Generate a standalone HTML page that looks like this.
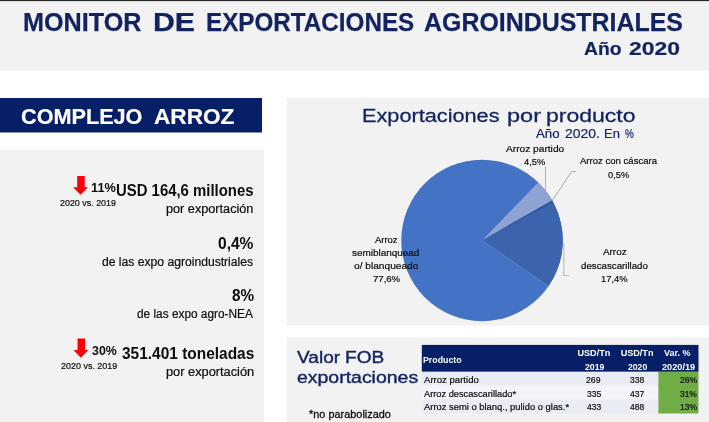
<!DOCTYPE html>
<html lang="es">
<head>
<meta charset="utf-8">
<title>Monitor de Exportaciones Agroindustriales</title>
<style>
html,body{margin:0;padding:0;}
body{width:709px;height:422px;position:relative;overflow:hidden;background:#fff;font-family:"Liberation Sans",sans-serif;color:#111;}
.abs{position:absolute;}
.t{position:absolute;white-space:nowrap;line-height:1;transform-origin:0 0;}
.b{font-weight:bold;}
</style>
</head>
<body>
<svg class="abs" style="left:0;top:0;" width="709" height="422" viewBox="0 0 709 422">
  <!-- header band -->
  <rect x="0" y="0" width="709" height="70.6" fill="#f2f2f2"/>
  <rect x="0" y="0" width="709" height="1.1" fill="#262626"/>
  <!-- navy section bar -->
  <rect x="0" y="98" width="262" height="34.5" fill="#061f67"/>
  <!-- left panel -->
  <rect x="0" y="149.8" width="264" height="273" fill="#f2f2f2"/>
  <!-- chart panel -->
  <rect x="286.6" y="98" width="423" height="227.6" fill="#f2f2f2"/>
  <!-- table panel -->
  <rect x="286.6" y="337.4" width="423" height="85" fill="#f2f2f2"/>
  <!-- arrows -->
  <path transform="translate(73.1 175.9)" d="M4.1 0H11.6V11.3H14.9L7.45 18.9L0 11.3H4.1Z" fill="#fb0007"/>
  <path transform="translate(73.45 338.6)" d="M4.1 0H11.6V11.5H14.9L7.45 19.2L0 11.5H4.1Z" fill="#fb0007"/>
  <!-- pie: centre 482.0,240.4 r 80.75 -->
  <circle cx="482.0" cy="240.4" r="80.75" fill="#4472c4"/>
  <path d="M482.0 240.4L538.19 182.41A80.75 80.75 0 0 1 552.14 200.39Z" fill="#8fa2d4"/>
  <path d="M482.0 240.4L552.14 200.39A80.75 80.75 0 0 1 553.36 202.61Z" fill="#2f5597"/>
  <path d="M482.0 240.4L553.36 202.61A80.75 80.75 0 0 1 548.39 286.37Z" fill="#3b64ad"/>
  <path d="M482.0 240.4L548.39 286.37" stroke="#6f93d6" stroke-width="0.6" fill="none"/>
  <path d="M545.5 166.5V191.5" stroke="#b3b3b3" stroke-width="1.1" fill="none"/>
  <path d="M552 201L571.6 171.6H576" stroke="#a0a0a0" stroke-width="0.9" fill="none"/>
  <path d="M563.8 243V275.5H569.5" stroke="#c0c0c0" stroke-width="1.2" fill="none"/>
  <!-- table -->
  <rect x="421.8" y="344.9" width="276.7" height="26.9" fill="#061f67"/>
  <rect x="421.8" y="371.8" width="236.6" height="13.9" fill="#e9ebf5"/>
  <rect x="421.8" y="385.7" width="236.6" height="13.9" fill="#f4f5fa"/>
  <rect x="421.8" y="399.6" width="236.6" height="13.9" fill="#e9ebf5"/>
  <rect x="658.4" y="371.8" width="40.1" height="41.7" fill="#70ad47"/>
</svg>

<div id="t1" class="t b" style="left:23.16px;top:9.74px;font-size:25.0px;color:#12235f;transform:scaleX(1.0080);-webkit-text-stroke:0.25px #12235f;">MONITOR</div>
<div id="t2" class="t b" style="left:153.16px;top:9.74px;font-size:25.0px;color:#12235f;transform:scaleX(1.2089);-webkit-text-stroke:0.25px #12235f;">DE</div>
<div id="t3" class="t b" style="left:205.64px;top:9.74px;font-size:25.0px;color:#12235f;transform:scaleX(0.9692);-webkit-text-stroke:0.25px #12235f;">EXPORTACIONES</div>
<div id="t4" class="t b" style="left:424.31px;top:9.74px;font-size:25.0px;color:#12235f;transform:scaleX(0.9971);-webkit-text-stroke:0.25px #12235f;">AGROINDUSTRIALES</div>
<div id="y1" class="t b" style="left:584.32px;top:40.95px;font-size:17.9px;color:#12235f;transform:scaleX(1.0813);-webkit-text-stroke:0.2px #12235f;">Año</div>
<div id="y2" class="t b" style="left:628.85px;top:40.95px;font-size:17.9px;color:#12235f;transform:scaleX(1.2814);-webkit-text-stroke:0.2px #12235f;">2020</div>
<div id="c1" class="t b" style="left:21.00px;top:106.58px;font-size:21.4px;color:#fff;transform:scaleX(1.0117);-webkit-text-stroke:0.2px #fff;">COMPLEJO</div>
<div id="c2" class="t b" style="left:154.29px;top:106.58px;font-size:21.4px;color:#fff;transform:scaleX(1.0577);-webkit-text-stroke:0.2px #fff;">ARROZ</div>
<div id="p11" class="t b" style="left:91.04px;top:182.17px;font-size:12.2px;color:#0c0c0c;transform:scaleX(1.0464);">11%</div>
<div id="vs1" class="t" style="left:60.00px;top:199.21px;font-size:8.85px;color:#0c0c0c;transform:scaleX(1.0074);-webkit-text-stroke:0.2px #0c0c0c;">2020 vs. 2019</div>
<div id="usd" class="t b" style="left:116.38px;top:183.43px;font-size:15.8px;color:#0c0c0c;transform:scaleX(0.9434);">USD 164,6 millones</div>
<div id="por1" class="t" style="left:166.08px;top:202.74px;font-size:12.0px;color:#0c0c0c;transform:scaleX(1.0565);-webkit-text-stroke:0.2px #0c0c0c;">por exportación</div>
<div id="p04" class="t b" style="left:218.15px;top:235.73px;font-size:15.8px;color:#0c0c0c;transform:scaleX(0.9847);">0,4%</div>
<div id="agro" class="t" style="left:101.90px;top:256.44px;font-size:12.0px;color:#0c0c0c;transform:scaleX(1.0109);-webkit-text-stroke:0.2px #0c0c0c;">de las expo agroindustriales</div>
<div id="p8" class="t b" style="left:231.67px;top:288.23px;font-size:15.8px;color:#0c0c0c;transform:scaleX(0.9673);">8%</div>
<div id="nea" class="t" style="left:136.92px;top:308.44px;font-size:12.0px;color:#0c0c0c;transform:scaleX(0.9866);-webkit-text-stroke:0.2px #0c0c0c;">de las expo agro-NEA</div>
<div id="p30" class="t b" style="left:92.21px;top:344.97px;font-size:12.2px;color:#0c0c0c;transform:scaleX(1.0146);">30%</div>
<div id="vs2" class="t" style="left:60.89px;top:361.51px;font-size:8.85px;color:#0c0c0c;transform:scaleX(1.0130);-webkit-text-stroke:0.2px #0c0c0c;">2020 vs. 2019</div>
<div id="ton" class="t b" style="left:122.09px;top:346.03px;font-size:15.8px;color:#0c0c0c;transform:scaleX(0.9780);">351.401 toneladas</div>
<div id="por2" class="t" style="left:165.84px;top:365.64px;font-size:12.0px;color:#0c0c0c;transform:scaleX(1.0653);-webkit-text-stroke:0.2px #0c0c0c;">por exportación</div>
<div id="ct1" class="t" style="left:361.61px;top:105.63px;font-size:19.1px;color:#12235f;transform:scaleX(1.1368);-webkit-text-stroke:0.3px #12235f;">Exportaciones</div>
<div id="ct2" class="t" style="left:507.28px;top:105.63px;font-size:19.1px;color:#12235f;transform:scaleX(1.2334);-webkit-text-stroke:0.3px #12235f;">por</div>
<div id="ct3" class="t" style="left:546.05px;top:105.63px;font-size:19.1px;color:#12235f;transform:scaleX(1.2040);-webkit-text-stroke:0.3px #12235f;">producto</div>
<div id="cs1" class="t" style="left:536.37px;top:127.64px;font-size:12.0px;color:#12235f;transform:scaleX(1.1006);-webkit-text-stroke:0.2px #12235f;">Año</div>
<div id="cs2" class="t" style="left:564.69px;top:127.64px;font-size:12.0px;color:#12235f;transform:scaleX(1.1585);-webkit-text-stroke:0.2px #12235f;">2020.</div>
<div id="cs3" class="t" style="left:604.49px;top:127.64px;font-size:12.0px;color:#12235f;transform:scaleX(1.0817);-webkit-text-stroke:0.2px #12235f;">En</div>
<div id="cs4" class="t" style="left:625.00px;top:127.64px;font-size:12.0px;color:#12235f;transform:scaleX(0.8249);-webkit-text-stroke:0.2px #12235f;">%</div>
<div id="l1a" class="t" style="left:506.00px;top:143.59px;font-size:9.7px;color:#0c0c0c;transform:scaleX(1.0492);-webkit-text-stroke:0.2px #0c0c0c;">Arroz partido</div>
<div id="l1b" class="t" style="left:524.00px;top:156.79px;font-size:9.7px;color:#0c0c0c;transform:scaleX(0.9622);-webkit-text-stroke:0.2px #0c0c0c;">4,5%</div>
<div id="l2a" class="t" style="left:580.00px;top:155.99px;font-size:9.7px;color:#0c0c0c;transform:scaleX(0.9863);-webkit-text-stroke:0.2px #0c0c0c;">Arroz con cáscara</div>
<div id="l2b" class="t" style="left:608.00px;top:169.59px;font-size:9.7px;color:#0c0c0c;transform:scaleX(0.9621);-webkit-text-stroke:0.2px #0c0c0c;">0,5%</div>
<div id="l3a" class="t" style="left:375.10px;top:234.69px;font-size:9.7px;color:#0c0c0c;transform:scaleX(0.9764);-webkit-text-stroke:0.2px #0c0c0c;">Arroz</div>
<div id="l3b" class="t" style="left:351.91px;top:247.79px;font-size:9.7px;color:#0c0c0c;transform:scaleX(1.0248);-webkit-text-stroke:0.2px #0c0c0c;">semiblanquead</div>
<div id="l3c" class="t" style="left:353.80px;top:260.69px;font-size:9.7px;color:#0c0c0c;transform:scaleX(1.0484);-webkit-text-stroke:0.2px #0c0c0c;">o/ blanqueado</div>
<div id="l3d" class="t" style="left:372.66px;top:274.39px;font-size:9.7px;color:#0c0c0c;transform:scaleX(0.9878);-webkit-text-stroke:0.2px #0c0c0c;">77,6%</div>
<div id="l4a" class="t" style="left:602.80px;top:247.39px;font-size:9.7px;color:#0c0c0c;transform:scaleX(1.0191);-webkit-text-stroke:0.2px #0c0c0c;">Arroz</div>
<div id="l4b" class="t" style="left:581.10px;top:260.59px;font-size:9.7px;color:#0c0c0c;-webkit-text-stroke:0.2px #0c0c0c;">descascarillado</div>
<div id="l4c" class="t" style="left:601.07px;top:274.49px;font-size:9.7px;color:#0c0c0c;transform:scaleX(0.9638);-webkit-text-stroke:0.2px #0c0c0c;">17,4%</div>
<div id="v1" class="t" style="left:297.00px;top:349.66px;font-size:16.7px;color:#12235f;transform:scaleX(1.1419);-webkit-text-stroke:0.4px #12235f;">Valor</div>
<div id="v2" class="t" style="left:344.99px;top:349.66px;font-size:16.7px;color:#12235f;transform:scaleX(1.1421);-webkit-text-stroke:0.4px #12235f;">FOB</div>
<div id="expo" class="t" style="left:296.81px;top:369.86px;font-size:16.7px;color:#12235f;transform:scaleX(1.1659);-webkit-text-stroke:0.4px #12235f;">exportaciones</div>
<div id="nopar" class="t" style="left:308.76px;top:408.95px;font-size:11.4px;color:#0c0c0c;transform:scaleX(0.9578);-webkit-text-stroke:0.3px #0c0c0c;">*no parabolizado</div>
<div id="h0" class="t b" style="left:423.26px;top:355.60px;font-size:9.1px;color:#fff;transform:scaleX(0.9680);">Producto</div>
<div id="h1a" class="t b" style="left:577.45px;top:348.70px;font-size:9.1px;color:#fff;">USD/Tn</div>
<div id="h1b" class="t b" style="left:585.30px;top:363.30px;font-size:9.1px;color:#fff;transform:scaleX(0.9546);">2019</div>
<div id="h2a" class="t b" style="left:620.65px;top:348.70px;font-size:9.1px;color:#fff;">USD/Tn</div>
<div id="h2b" class="t b" style="left:628.19px;top:363.30px;font-size:9.1px;color:#fff;transform:scaleX(0.9504);">2020</div>
<div id="h3a" class="t b" style="left:664.17px;top:348.70px;font-size:9.1px;color:#fff;transform:scaleX(0.9850);">Var. %</div>
<div id="h3b" class="t b" style="left:661.98px;top:363.30px;font-size:9.1px;color:#fff;transform:scaleX(1.0090);">2020/19</div>
<div id="r1a" class="t" style="left:423.90px;top:376.30px;font-size:9.1px;color:#0c0c0c;transform:scaleX(1.0525);-webkit-text-stroke:0.2px #0c0c0c;">Arroz partido</div>
<div id="r1b" class="t" style="left:586.18px;top:376.30px;font-size:9.1px;color:#0c0c0c;transform:scaleX(0.9539);-webkit-text-stroke:0.2px #0c0c0c;">269</div>
<div id="r1c" class="t" style="left:629.69px;top:376.30px;font-size:9.1px;color:#0c0c0c;transform:scaleX(0.9499);-webkit-text-stroke:0.2px #0c0c0c;">338</div>
<div id="r1d" class="t" style="left:679.85px;top:376.30px;font-size:9.1px;color:#0c0c0c;transform:scaleX(0.9453);-webkit-text-stroke:0.2px #0c0c0c;">26%</div>
<div id="r2a" class="t" style="left:423.90px;top:390.00px;font-size:9.1px;color:#0c0c0c;transform:scaleX(1.0174);-webkit-text-stroke:0.2px #0c0c0c;">Arroz descascarillado*</div>
<div id="r2b" class="t" style="left:586.94px;top:390.00px;font-size:9.1px;color:#0c0c0c;transform:scaleX(0.9490);-webkit-text-stroke:0.2px #0c0c0c;">335</div>
<div id="r2c" class="t" style="left:630.00px;top:390.00px;font-size:9.1px;color:#0c0c0c;transform:scaleX(0.9418);-webkit-text-stroke:0.2px #0c0c0c;">437</div>
<div id="r2d" class="t" style="left:679.69px;top:390.00px;font-size:9.1px;color:#0c0c0c;transform:scaleX(0.9234);-webkit-text-stroke:0.2px #0c0c0c;">31%</div>
<div id="r3a" class="t" style="left:423.90px;top:402.70px;font-size:9.1px;color:#0c0c0c;transform:scaleX(1.0324);-webkit-text-stroke:0.2px #0c0c0c;">Arroz semi o blanq., pulido o glas.*</div>
<div id="r3b" class="t" style="left:586.90px;top:402.70px;font-size:9.1px;color:#0c0c0c;transform:scaleX(0.9337);-webkit-text-stroke:0.2px #0c0c0c;">433</div>
<div id="r3c" class="t" style="left:630.00px;top:402.70px;font-size:9.1px;color:#0c0c0c;transform:scaleX(0.9429);-webkit-text-stroke:0.2px #0c0c0c;">488</div>
<div id="r3d" class="t" style="left:679.54px;top:402.70px;font-size:9.1px;color:#0c0c0c;transform:scaleX(0.9342);-webkit-text-stroke:0.2px #0c0c0c;">13%</div>
</body>
</html>
